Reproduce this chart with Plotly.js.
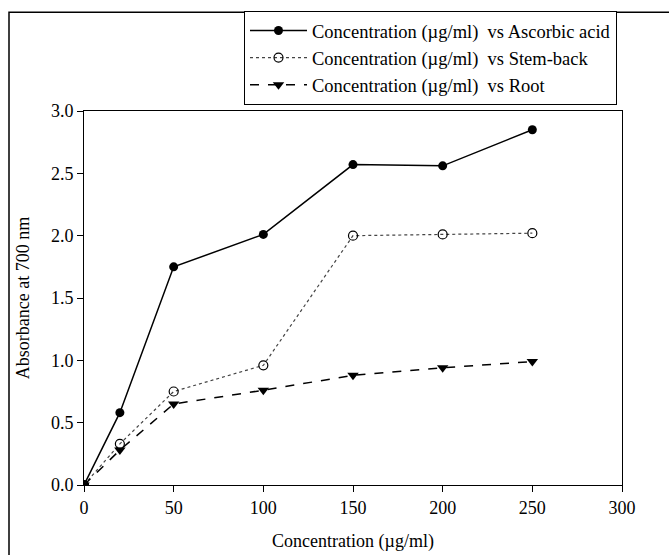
<!DOCTYPE html>
<html>
<head>
<meta charset="utf-8">
<script src="https://cdn.plot.ly/plotly-3.0.1.min.js"></script>
<style>html,body{margin:0;padding:0;background:#fff;}#chart{width:669px;height:555px;}</style>
</head>
<body>
<div id="chart"></div>
<script>
var concentration = [0, 20, 50, 100, 150, 200, 250];
var ascorbicAcid = [0, 0.58, 1.75, 2.01, 2.57, 2.56, 2.85];
var stemBack = [0, 0.33, 0.75, 0.96, 2.00, 2.01, 2.02];
var root = [0, 0.28, 0.65, 0.76, 0.88, 0.94, 0.99];
var seriesNames = [
  "Concentration (\u00b5g/ml)\u00a0 vs Ascorbic acid",
  "Concentration (\u00b5g/ml)\u00a0 vs Stem-back",
  "Concentration (\u00b5g/ml)\u00a0 vs Root"
];
var xTicks = [0, 50, 100, 150, 200, 250, 300];
var yTicks = [0, 0.5, 1, 1.5, 2, 2.5, 3];
var yTickText = ["0.0", "0.5", "1.0", "1.5", "2.0", "2.5", "3.0"];

var font = {family: "Liberation Serif, Times New Roman, serif", size: 18, color: "#000"};
var legendFont = {family: "Liberation Serif, Times New Roman, serif", size: 18.5, color: "#000"};

var traces = [
  {x: concentration, y: ascorbicAcid, name: seriesNames[0], mode: "lines+markers",
   line: {color: "#000", width: 1.5, dash: "solid"},
   marker: {symbol: "circle", size: 9, color: "#000"}},
  {x: concentration, y: stemBack, name: seriesNames[1], mode: "lines+markers",
   line: {color: "#444", width: 1.2, dash: "dot"},
   marker: {symbol: "circle-open", size: 9, color: "#000", line: {width: 1.2}}},
  {x: concentration, y: root, name: seriesNames[2], mode: "lines+markers",
   line: {color: "#000", width: 1.5, dash: "dash"},
   marker: {symbol: "triangle-down", size: 10, color: "#000"}}
];

var layout = {
  width: 669, height: 555,
  margin: {l: 84, r: 47, t: 110, b: 70},
  paper_bgcolor: "#fff", plot_bgcolor: "#fff",
  font: font,
  showlegend: true,
  legend: {
    x: 0.9907, xanchor: "right", y: 1.264, yanchor: "top",
    bordercolor: "#000", borderwidth: 1, bgcolor: "#fff",
    font: legendFont, itemwidth: 57, tracegroupgap: 0
  },
  xaxis: {
    range: [0, 300], tickvals: xTicks, ticks: "outside", ticklen: 6, tickwidth: 1,
    tickcolor: "#000", showline: true, linecolor: "#000", linewidth: 1, mirror: true,
    showgrid: false, zeroline: false, tickfont: font,
    title: {text: "Concentration (\u00b5g/ml)", font: font, standoff: 17}
  },
  yaxis: {
    range: [0, 3], tickvals: yTicks, ticktext: yTickText, ticks: "outside", ticklen: 6, tickwidth: 1,
    tickcolor: "#000", showline: true, linecolor: "#000", linewidth: 1, mirror: true,
    showgrid: false, zeroline: false, tickfont: font,
    title: {text: "Absorbance at 700 nm", font: font, standoff: 16}
  },
  shapes: [
    {type: "rect", xref: "paper", yref: "paper", x0: -0.1394, x1: 1.3, y0: -0.3, y1: 1.264,
     line: {color: "#000", width: 1.5}, layer: "below"}
  ]
};

Plotly.newPlot("chart", traces, layout, {displayModeBar: false, staticPlot: true});
</script>
</body>
</html>
